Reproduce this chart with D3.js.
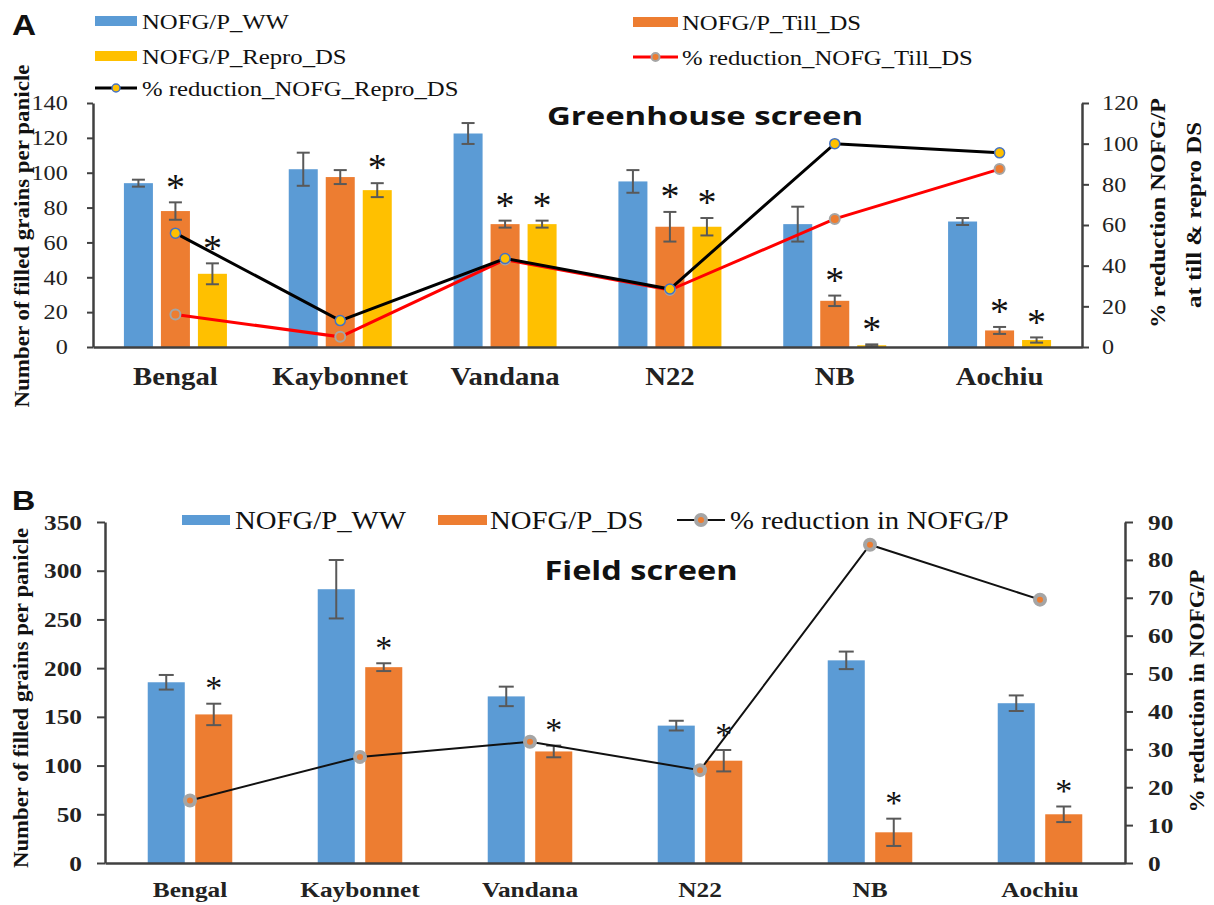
<!DOCTYPE html>
<html>
<head>
<meta charset="utf-8">
<script src="https://cdn.jsdelivr.net/npm/d3@7"></script>
<style>
body { margin: 0; background: #fff; }
</style>
</head>
<body>
<div id="chart-area"></div>
<script>
/*
*    filled grains per panicle - greenhouse (A) and field (B)
*/
var cultivars = ["Bengal", "Kaybonnet", "Vandana", "N22", "NB", "Aochiu"];

// panel A, greenhouse screen
var ghWW        = [94, 102, 122.5, 95, 70.5, 72];
var ghWWErr     = [2, 9.5, 6, 6.5, 10, 2];
var ghTill      = [78, 97.5, 70.5, 69, 26.5, 9.5];
var ghTillErr   = [5, 4, 2, 8.5, 3, 2];
var ghRepro     = [42, 90, 70.5, 69, 1, 4];
var ghReproErr  = [6, 4, 2, 5, 0.5, 1.5];
var ghRedTill   = [16, 5, 43, 28, 63, 87.5];
var ghRedRepro  = [56, 13, 43.5, 28.5, 100, 95.5];
var ghStarTill  = [1, 0, 1, 1, 1, 1];
var ghStarRepro = [1, 1, 1, 1, 1, 1];

// panel B, field screen
var fWW    = [185.5, 281, 171, 141, 208, 164];
var fWWErr = [7.5, 30, 10, 5, 9, 8];
var fDS    = [152.5, 201, 114.5, 105, 31.5, 50];
var fDSErr = [11, 4, 6, 11, 14, 8];
var fRed   = [16.5, 28, 32, 24.5, 84, 69.5];
var fStar  = [1, 1, 1, 1, 1, 1];

var ticksA  = [0, 20, 40, 60, 80, 100, 120, 140];
var ticksAR = [0, 20, 40, 60, 80, 100, 120];
var ticksB  = [0, 50, 100, 150, 200, 250, 300, 350];
var ticksBR = [0, 10, 20, 30, 40, 50, 60, 70, 80, 90];

var blue = "#5B9BD5", orange = "#ED7D31", yellow = "#FFC000";
var grey = "#A5A5A5", errCol = "#595959", axisCol = "#404040";
var serif = "'Liberation Serif', 'Times New Roman', serif";
var sans = "'Open Sans', 'Noto Sans', sans-serif";
var SX = 1.15;   // the source figure is stretched sideways a bit

var svg = d3.select("#chart-area").append("svg")
	.attr("width", 1214)
	.attr("height", 905)
	.style("background", "#fff");

function addText(parent, x, y, str, size, weight, anchor, family) {
	return parent.append("text")
		.attr("transform", "translate(" + x + "," + y + ") scale(" + SX + ",1)")
		.attr("font-family", family || serif)
		.attr("font-size", size + "px")
		.attr("font-weight", weight || "normal")
		.attr("text-anchor", anchor || "start")
		.attr("fill", "#111")
		.text(str);
}

function addVText(parent, x, y, str, size, len) {
	return parent.append("text")
		.attr("transform", "translate(" + x + "," + y + ") rotate(-90)")
		.attr("font-family", serif)
		.attr("font-size", size + "px")
		.attr("font-weight", "bold")
		.attr("text-anchor", "middle")
		.attr("textLength", len)
		.attr("lengthAdjust", "spacingAndGlyphs")
		.attr("fill", "#111")
		.text(str);
}

function styleAxis(g, size, weight, dx) {
	g.select(".domain").attr("stroke", axisCol).attr("stroke-width", 2.5);
	g.selectAll(".tick line").attr("stroke", axisCol).attr("stroke-width", 2);
	g.selectAll(".tick text")
		.attr("font-family", serif)
		.attr("font-size", size + "px")
		.attr("font-weight", weight)
		.attr("fill", "#222")
		.attr("x", dx)
		.attr("transform", "scale(" + SX + ",1)");
}

function legendBox(parent, x, y, w, color) {
	parent.append("rect")
		.attr("x", x).attr("y", y - 5)
		.attr("width", w).attr("height", 10)
		.attr("fill", color);
}

function legendLine(parent, x, y, w, lineCol, lw, mFill, mStroke, mr, msw) {
	parent.append("line")
		.attr("x1", x).attr("x2", x + w)
		.attr("y1", y).attr("y2", y)
		.attr("stroke", lineCol).attr("stroke-width", lw);
	parent.append("circle")
		.attr("cx", x + w / 2).attr("cy", y).attr("r", mr)
		.attr("fill", mFill).attr("stroke", mStroke).attr("stroke-width", msw);
}

function drawBars(g, sets, cx, x1, y, capW, fontStar) {
	sets.forEach((s) => {
		var pts = cultivars.map((c, i) => ({c: c, v: s.vals[i], e: s.errs[i], star: s.stars ? s.stars[i] : 0}));
		var mid = (d) => cx(d.c) + x1(s.key) + x1.bandwidth() / 2;
		g.selectAll(null).data(pts).enter().append("rect")
			.attr("x", (d) => cx(d.c) + x1(s.key))
			.attr("y", (d) => y(d.v))
			.attr("width", x1.bandwidth())
			.attr("height", (d) => y(0) - y(d.v))
			.attr("fill", s.color);
		var eb = g.selectAll(null).data(pts).enter().append("g")
			.attr("transform", (d) => "translate(" + mid(d) + ",0)")
			.attr("stroke", errCol).attr("stroke-width", 2);
		eb.append("line").attr("y1", (d) => y(d.v + d.e)).attr("y2", (d) => y(d.v - d.e));
		eb.append("line").attr("x1", -capW / 2).attr("x2", capW / 2)
			.attr("y1", (d) => y(d.v + d.e)).attr("y2", (d) => y(d.v + d.e));
		eb.append("line").attr("x1", -capW / 2).attr("x2", capW / 2)
			.attr("y1", (d) => y(d.v - d.e)).attr("y2", (d) => y(d.v - d.e));
		// significance stars sit just above the error bar
		pts.filter((d) => d.star).forEach((d) => {
			g.append("text")
				.attr("x", mid(d))
				.attr("y", y(d.v + d.e) - 18 + fontStar * 0.4)
				.attr("text-anchor", "middle")
				.attr("font-family", serif)
				.attr("font-size", fontStar + "px")
				.attr("fill", "#111")
				.text("*");
		});
	});
}

// ---------------- Panel A ----------------
var gA = svg.append("g");
var seriesA = ["ww", "till", "repro"];
var x0A = d3.scaleBand().domain(cultivars).range([93, 1082]);
var x1A = d3.scaleBand().domain(seriesA).range([-55.5, 55.5]).paddingInner(0.216).paddingOuter(0.108);
var yA = d3.scaleLinear().domain([0, 140]).range([347, 103]);
var yAR = d3.scaleLinear().domain([0, 120]).range([347, 103]);
var cxA = (c) => x0A(c) + x0A.bandwidth() / 2;

var barsA = [
	{key: "ww", vals: ghWW, errs: ghWWErr, color: blue, stars: null},
	{key: "till", vals: ghTill, errs: ghTillErr, color: orange, stars: ghStarTill},
	{key: "repro", vals: ghRepro, errs: ghReproErr, color: yellow, stars: ghStarRepro}
];
drawBars(gA, barsA, cxA, x1A, yA, 13, 38);

var lineA = d3.line().x((d) => cxA(d.c)).y((d) => yAR(d.v));
var redPts = cultivars.map((c, i) => ({c: c, v: ghRedTill[i]}));
var blkPts = cultivars.map((c, i) => ({c: c, v: ghRedRepro[i]}));

gA.append("path").datum(redPts).attr("d", lineA)
	.attr("fill", "none").attr("stroke", "#FF0000").attr("stroke-width", 3);
gA.selectAll(null).data(redPts).enter().append("circle")
	.attr("cx", (d) => cxA(d.c)).attr("cy", (d) => yAR(d.v)).attr("r", 5)
	.attr("fill", orange).attr("stroke", grey).attr("stroke-width", 2);
gA.append("path").datum(blkPts).attr("d", lineA)
	.attr("fill", "none").attr("stroke", "#000").attr("stroke-width", 3);
gA.selectAll(null).data(blkPts).enter().append("circle")
	.attr("cx", (d) => cxA(d.c)).attr("cy", (d) => yAR(d.v)).attr("r", 5)
	.attr("fill", yellow).attr("stroke", "#4472C4").attr("stroke-width", 1.5);

var axLA = gA.append("g").attr("transform", "translate(93,0)")
	.call(d3.axisLeft(yA).tickValues(ticksA).tickSize(6).tickSizeOuter(0));
styleAxis(axLA, 21, "normal", -22);
var axRA = gA.append("g").attr("transform", "translate(1082,0)")
	.call(d3.axisRight(yAR).tickValues(ticksAR).tickSize(7).tickSizeOuter(0));
styleAxis(axRA, 21, "normal", 17.5);
var axBA = gA.append("g").attr("transform", "translate(0,347)")
	.call(d3.axisBottom(x0A).tickSize(0).tickSizeOuter(0).tickPadding(20));
styleAxis(axBA, 25, "bold", 0);

addVText(gA, 29, 236, "Number of filled grains per panicle", 21, 343);
addVText(gA, 1165, 213, "% reduction NOFG/P", 21, 230);
addVText(gA, 1201, 215, "at till & repro DS", 21, 186);

addText(gA, 705, 125, "Greenhouse screen", 25, "bold", "middle", sans)
	.attr("textLength", 275).attr("lengthAdjust", "spacingAndGlyphs");
addText(gA, 12, 35, "A", 29, "bold", "start", "'Liberation Sans', Arial, sans-serif");

// legend A
legendBox(gA, 95, 21, 42, blue);
addText(gA, 142, 28.5, "NOFG/P_WW", 21.5);
legendBox(gA, 633, 22, 45, orange);
addText(gA, 682, 29.5, "NOFG/P_Till_DS", 21.5);
legendBox(gA, 95, 56, 42, yellow);
addText(gA, 142, 63.5, "NOFG/P_Repro_DS", 21.5);
legendLine(gA, 633, 57, 45, "#FF0000", 3, orange, grey, 4, 2);
addText(gA, 682, 64.5, "% reduction_NOFG_Till_DS", 21.5);
legendLine(gA, 95, 88, 42, "#000", 3, yellow, "#4472C4", 4, 1.5);
addText(gA, 142, 95.5, "% reduction_NOFG_Repro_DS", 21.5);

// ---------------- Panel B ----------------
var gB = svg.append("g");
var seriesB = ["ww", "ds"];
var x0B = d3.scaleBand().domain(cultivars).range([105, 1125]);
var x1B = d3.scaleBand().domain(seriesB).range([-47.5, 47.5]).paddingInner(0.22).paddingOuter(0.11);
var yB = d3.scaleLinear().domain([0, 350]).range([863, 522]);
var yBR = d3.scaleLinear().domain([0, 90]).range([863, 522]);
var cxB = (c) => x0B(c) + x0B.bandwidth() / 2;

var barsB = [
	{key: "ww", vals: fWW, errs: fWWErr, color: blue, stars: null},
	{key: "ds", vals: fDS, errs: fDSErr, color: orange, stars: fStar}
];
drawBars(gB, barsB, cxB, x1B, yB, 15, 34);

var lineB = d3.line().x((d) => cxB(d.c)).y((d) => yBR(d.v));
var fPts = cultivars.map((c, i) => ({c: c, v: fRed[i]}));
gB.append("path").datum(fPts).attr("d", lineB)
	.attr("fill", "none").attr("stroke", "#111").attr("stroke-width", 2);
gB.selectAll(null).data(fPts).enter().append("circle")
	.attr("cx", (d) => cxB(d.c)).attr("cy", (d) => yBR(d.v)).attr("r", 5)
	.attr("fill", orange).attr("stroke", grey).attr("stroke-width", 4);

var axLB = gB.append("g").attr("transform", "translate(105,0)")
	.call(d3.axisLeft(yB).tickValues(ticksB).tickSize(8).tickSizeOuter(0));
styleAxis(axLB, 22, "bold", -20);
var axRB = gB.append("g").attr("transform", "translate(1125,0)")
	.call(d3.axisRight(yBR).tickValues(ticksBR).tickSize(8).tickSizeOuter(0));
styleAxis(axRB, 22, "bold", 20);
var axBB = gB.append("g").attr("transform", "translate(0,863)")
	.call(d3.axisBottom(x0B).tickSize(0).tickSizeOuter(0).tickPadding(18));
styleAxis(axBB, 22, "bold", 0);

addVText(gB, 28, 698, "Number of filled grains per panicle", 21, 340);
addVText(gB, 1204, 691, "% reduction in NOFG/P", 21, 243);

addText(gB, 641, 580, "Field screen", 26, "bold", "middle", sans)
	.attr("textLength", 168).attr("lengthAdjust", "spacingAndGlyphs");
addText(gB, 12, 510, "B", 28, "bold", "start", "'Liberation Sans', Arial, sans-serif");

// legend B
legendBox(gB, 182, 520, 48, blue);
addText(gB, 235, 529, "NOFG/P_WW", 25);
legendBox(gB, 438, 520, 49, orange);
addText(gB, 490, 529, "NOFG/P_DS", 25);
legendLine(gB, 677, 520, 48, "#111", 2, orange, grey, 5, 4);
addText(gB, 730, 529, "% reduction in NOFG/P", 25);
</script>
</body>
</html>
